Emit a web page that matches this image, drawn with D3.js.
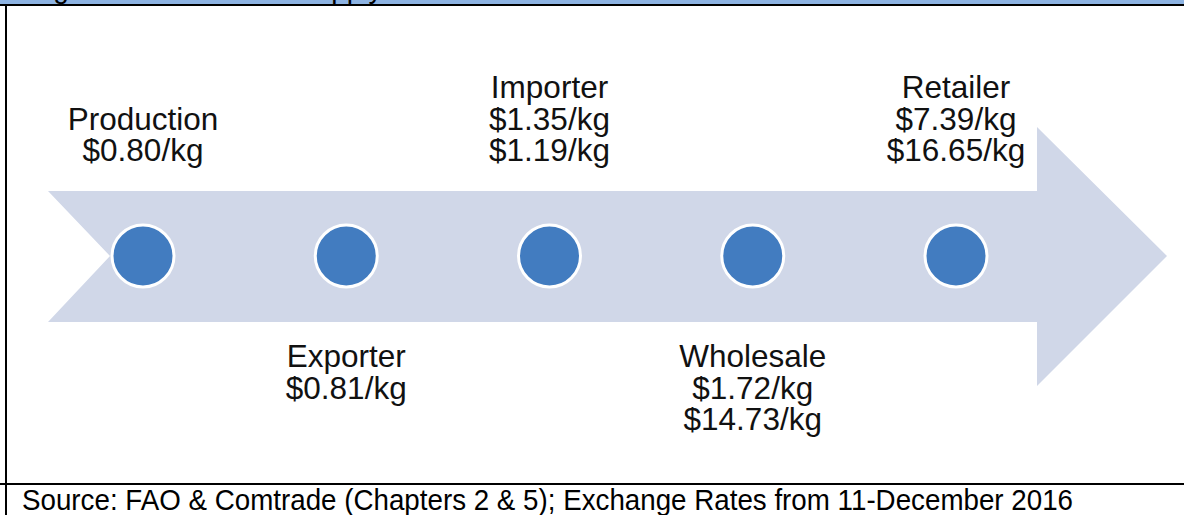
<!DOCTYPE html>
<html>
<head>
<meta charset="utf-8">
<script src="https://cdn.jsdelivr.net/npm/d3@7"></script>
<style>
  html, body { margin: 0; padding: 0; background: #ffffff; }
  svg { display: block; font-family: "Liberation Sans", Arial, sans-serif; }
</style>
</head>
<body>
<svg id="chart" width="1184" height="515"></svg>
<script>
// ---- data ----
const stages = ["Production", "Exporter", "Importer", "Wholesale", "Retailer"];
const stagePrices = [[0.80], [0.81], [1.35, 1.19], [1.72, 14.73], [7.39, 16.65]];
const labelSide = ["top", "bottom", "top", "bottom", "top"];
const titleText = ["Figure 1:", "Supply Chain"];
const sourceText = "Source: FAO & Comtrade (Chapters 2 & 5); Exchange Rates from 11-December 2016";

// ---- layout ----
const W = 1184, H = 515;
const svg = d3.select("#chart");
const fmt = v => d3.format("$.2f")(v) + "/kg";

const x = d3.scalePoint().domain(stages).range([143, 956]);
const cy = 256;

// header band with clipped title (only descenders visible, as in the reference)
svg.append("rect").attr("x", 0).attr("y", 0).attr("width", W).attr("height", 4).attr("fill", "#8db3e2");
const clip = svg.append("clipPath").attr("id", "hdr");
clip.append("rect").attr("x", 0).attr("y", 0).attr("width", W).attr("height", 4);
const hdr = svg.append("g").attr("clip-path", "url(#hdr)");
hdr.append("text").attr("x", 30).attr("y", -2.5).attr("font-size", 28).attr("fill", "#000").text(titleText[0]);
hdr.append("text").attr("x", 297).attr("y", -2.5).attr("font-size", 28).attr("fill", "#000").text(titleText[1]);

// borders
svg.append("rect").attr("x", 0).attr("y", 4).attr("width", W).attr("height", 2).attr("fill", "#000");
svg.append("rect").attr("x", 5).attr("y", 4).attr("width", 2).attr("height", H - 4).attr("fill", "#000");
svg.append("rect").attr("x", 0).attr("y", 483).attr("width", W).attr("height", 2).attr("fill", "#000");

// arrow
const bodyTop = 191, bodyBot = 322, headTop = 127, headBot = 386;
const notchX = 48, notchTip = 110, headX = 1037, tipX = 1167;
const arrowPts = [
  [notchX, bodyTop], [headX, bodyTop], [headX, headTop], [tipX, cy],
  [headX, headBot], [headX, bodyBot], [notchX, bodyBot], [notchTip, cy]
];
svg.append("path")
  .attr("d", d3.line()(arrowPts) + "Z")
  .attr("fill", "#d0d7e8");

// circles
svg.selectAll("circle.stage").data(stages).join("circle")
  .attr("class", "stage")
  .attr("cx", d => x(d)).attr("cy", cy).attr("r", 31)
  .attr("fill", "#427cc0").attr("stroke", "#ffffff").attr("stroke-width", 3);

// labels
const lineH = 31.5, fs = 31.5;
stages.forEach((s, i) => {
  const lines = [s].concat(stagePrices[i].map(fmt));
  const n = lines.length;
  const g = svg.append("g");
  lines.forEach((t, j) => {
    let y;
    if (labelSide[i] === "top") y = 161 - (n - 1 - j) * lineH;
    else y = 367 + j * lineH;
    g.append("text").attr("x", x(s)).attr("y", y)
      .attr("text-anchor", "middle").attr("font-size", fs).attr("fill", "#111")
      .text(t);
  });
});

// source
svg.append("text").attr("x", 22).attr("y", 510).attr("font-size", 29).attr("fill", "#000")
  .attr("textLength", 1051).attr("lengthAdjust", "spacingAndGlyphs")
  .text(sourceText);
</script>
</body>
</html>
